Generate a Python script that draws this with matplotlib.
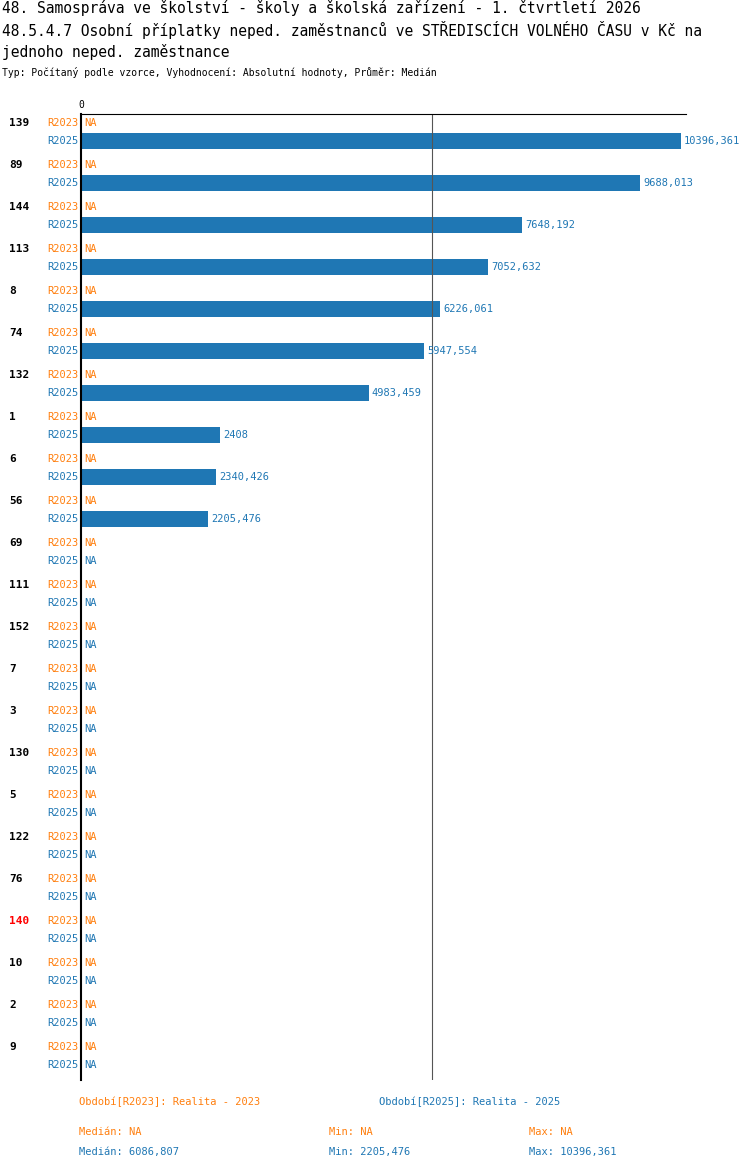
import matplotlib.pyplot as plt

plt.rcParams["font.family"] = ["DejaVu Sans Mono"]

categories = ["139", "89", "144", "113", "8", "74", "132", "1", "6", "56", "69", "111",
              "152", "7", "3", "130", "5", "122", "76", "140", "10", "2", "9"]
r2025 = [10396.361, 9688.013, 7648.192, 7052.632, 6226.061, 5947.554, 4983.459, 2408,
         2340.426, 2205.476] + [None] * 13
r2023 = [None] * len(categories)
highlight = "140"
median_2025 = 6086.807

ORANGE = "#ff7f0e"
BLUE = "#1f77b4"
W, H = 750, 1170


def fy(py):
    return 1 - py / H


def fmt(v):
    s = f"{v:.3f}".rstrip("0").rstrip(".")
    return s.replace(".", ",")


fig = plt.figure(figsize=(W / 100, H / 100), dpi=100)
top_px, bot_px, left_px, right_px = 114, 1080, 81, 686
ax = fig.add_axes([left_px / W, fy(bot_px), (right_px - left_px) / W, (bot_px - top_px) / H])
xmax = max(v for v in r2025 if v) * (right_px - left_px) / 600
ax.set_xlim(0, xmax)
ax.set_ylim(bot_px, top_px)
for s in ["right", "bottom"]:
    ax.spines[s].set_visible(False)
ax.spines["left"].set_linewidth(1.5)
ax.spines["top"].set_linewidth(0.8)
ax.set_xticks([])
ax.set_yticks([])
ax.axvline(median_2025, color="#555555", lw=0.8)
ax.text(0, top_px - 4, "0", fontsize=7, ha="center", va="bottom")

fs = 7.5
for i, cat in enumerate(categories):
    y23 = 123 + 42 * i
    y25 = 141 + 42 * i
    ax.text(-xmax * 72 / 605, y23, cat, fontsize=8, fontweight="bold",
            color="red" if cat == highlight else "black", va="center", ha="left")
    ax.text(-xmax * 2 / 605, y23, "R2023", fontsize=fs, color=ORANGE, va="center", ha="right")
    ax.text(-xmax * 2 / 605, y25, "R2025", fontsize=fs, color=BLUE, va="center", ha="right")
    ax.text(xmax * 3 / 605, y23, "NA" if r2023[i] is None else fmt(r2023[i]),
            fontsize=fs, color=ORANGE, va="center")
    v = r2025[i]
    if v is None:
        ax.text(xmax * 3 / 605, y25, "NA", fontsize=fs, color=BLUE, va="center")
    else:
        ax.barh(y25, v, height=16, color=BLUE)
        ax.text(v + xmax * 3 / 605, y25, fmt(v), fontsize=fs, color=BLUE, va="center")

fig.text(2 / W, fy(8), "48. Samospráva ve školství - školy a školská zařízení - 1. čtvrtletí 2026",
         fontsize=10.5, va="center")
fig.text(2 / W, fy(30), "48.5.4.7 Osobní příplatky neped. zaměstnanců ve STŘEDISCÍCH VOLNÉHO ČASU v Kč na",
         fontsize=10.5, va="center")
fig.text(2 / W, fy(52), "jednoho neped. zaměstnance", fontsize=10.5, va="center")
fig.text(2 / W, fy(73), "Typ: Počítaný podle vzorce, Vyhodnocení: Absolutní hodnoty, Průměr: Medián",
         fontsize=7, va="center")

fig.text(79 / W, fy(1102), "Období[R2023]: Realita - 2023", fontsize=7.5, color=ORANGE, va="center")
fig.text(379 / W, fy(1102), "Období[R2025]: Realita - 2025", fontsize=7.5, color=BLUE, va="center")
fig.text(79 / W, fy(1132), "Medián: NA", fontsize=7.5, color=ORANGE, va="center")
fig.text(329 / W, fy(1132), "Min: NA", fontsize=7.5, color=ORANGE, va="center")
fig.text(529 / W, fy(1132), "Max: NA", fontsize=7.5, color=ORANGE, va="center")
vals = [v for v in r2025 if v is not None]
fig.text(79 / W, fy(1152), f"Medián: {fmt(median_2025)}", fontsize=7.5, color=BLUE, va="center")
fig.text(329 / W, fy(1152), f"Min: {fmt(min(vals))}", fontsize=7.5, color=BLUE, va="center")
fig.text(529 / W, fy(1152), f"Max: {fmt(max(vals))}", fontsize=7.5, color=BLUE, va="center")

fig.savefig("out.png", dpi=100)
